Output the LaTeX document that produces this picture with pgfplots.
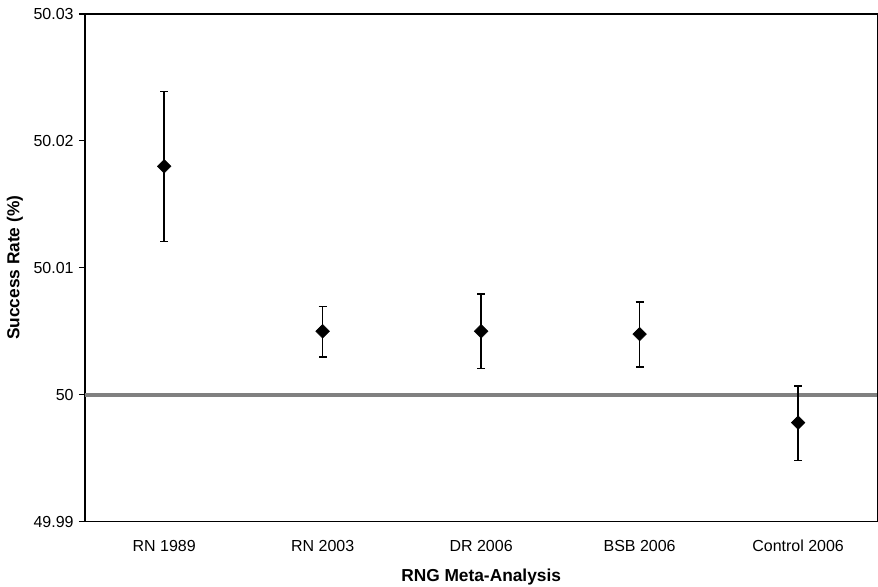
\documentclass[border=0pt]{standalone}
\usepackage{fontspec}
\setmainfont{Liberation Sans}
\usepackage{pgfplots}
\pgfplotsset{compat=1.18}
\usepackage{pgfplotstable}

% x: category index, y: mean, ep/em: upper/lower error
\pgfplotstableread{
x y ep em
0 50.0180 0.00588 0.00593
1 50.0050 0.00195 0.00201
2 50.0050 0.00295 0.00295
3 50.00478 0.00252 0.00260
4 49.9978 0.00290 0.00300
}\rngdata

\begin{document}
\begin{tikzpicture}
\begin{axis}[
    scale only axis,
    width=594.75pt,
    height=381pt,
    xmin=-0.5, xmax=4.5,
    ymin=49.99, ymax=50.03,
    xtick={0,1,2,3,4},
    xticklabels={RN 1989, RN 2003, DR 2006, BSB 2006, Control 2006},
    ytick={49.99,50,50.01,50.02,50.03},
    yticklabels={49.99,50,50.01,50.02,50.03},
    x tick style={draw=none},
    y tick style={black, line width=0.9pt},
    tick align=outside,
    major tick length=4.5pt,
    ytick pos=left,
    axis line style={black, line width=1pt},
    tick label style={font=\fontsize{12}{14}\selectfont},
    xticklabel style={yshift=-6pt},
    yticklabel style={xshift=-0.5pt},
    every axis x label/.style={at={(axis description cs:0.5,0)}, yshift=-41.25pt, anchor=center},
    every axis y label/.style={at={(axis description cs:0,0.5)}, xshift=-52.5pt, rotate=90, anchor=center},
    label style={font=\fontsize{13}{15}\selectfont\bfseries},
    xlabel={RNG Meta-Analysis},
    ylabel={Success Rate (\%)},
    clip=false,
]
    \coordinate (O) at (rel axis cs:0,0);
    \coordinate (T) at (rel axis cs:1,1);
    % reference line at 50 %
    \addplot[color=black!50, line width=3pt, forget plot] coordinates {(-0.5,50) (4.5,50)};
    \addplot[
        only marks,
        mark=square*,
        mark size=3.6pt,
        mark options={rotate=45, fill=black, draw=black},
        error bars/.cd,
            y dir=both, y explicit,
            error bar style={black, line width=1.2pt},
            error mark options={black, line width=1.2pt, mark size=3pt, rotate=90},
    ] table[x=x, y=y, y error plus=ep, y error minus=em] {\rngdata};
\end{axis}
\pgfresetboundingbox
\path ([xshift=-63.75pt, yshift=-48.75pt]O) rectangle ([xshift=0.5pt, yshift=10.5pt]T);
\end{tikzpicture}
\end{document}
